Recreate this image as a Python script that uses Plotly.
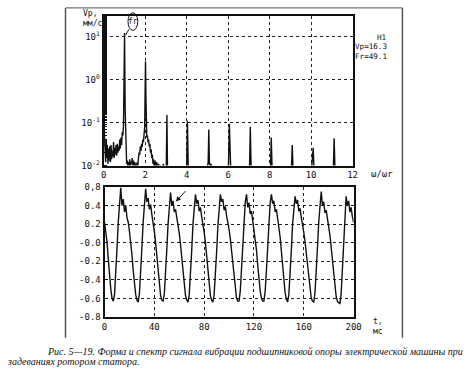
import plotly.graph_objects as go

# ---------------- data ----------------
# spectrum: frequency (ω/ωr) and amplitude Vp (mm/s)
spec_f = [0.00, 0.02, 0.04, 0.06, 0.08, 0.10, 0.13, 0.15, 0.18, 0.21, 0.24, 0.27, 0.30, 0.33, 0.36,
          0.39, 0.42, 0.45, 0.48, 0.51, 0.54, 0.57, 0.60, 0.63, 0.66, 0.69, 0.72, 0.75, 0.78, 0.81,
          0.84, 0.87, 0.90, 0.93, 0.96, 0.98, 1.00, 1.01, 1.02, 1.04, 1.06, 1.08, 1.11, 1.14, 1.17,
          1.20, 1.23, 1.26, 1.29, 1.32, 1.35, 1.38, 1.41, 1.44, 1.47, 1.50, 1.53, 1.56, 1.59, 1.62,
          1.65, 1.68, 1.71, 1.74, 1.77, 1.80, 1.83, 1.86, 1.89, 1.92, 1.95, 1.98, 2.00, 2.02, 2.04,
          2.06, 2.08, 2.11, 2.14, 2.17, 2.20, 2.23, 2.26, 2.29, 2.32, 2.35, 2.38, 2.41, 2.44, 2.48,
          2.52, 2.56, 2.60, 2.65, 2.70, 2.76, 2.82, 2.88, 2.94, 3.02, 3.05, 3.08,
          4.00, 4.04, 4.08,
          4.96, 5.00, 5.04, 5.07, 5.10, 5.14, 5.18, 5.22,
          5.98, 6.02, 6.06, 6.09, 6.12, 6.16,
          7.03, 7.07, 7.11,
          8.04, 8.08, 8.12,
          9.05, 9.09, 9.13,
          10.02, 10.06, 10.10, 10.13, 10.16,
          11.07, 11.11, 11.15, 12.0]
spec_v = [1.6, 0.9, 0.05, 0.02, 0.035, 0.012, 0.04, 0.015, 0.03, 0.011, 0.025, 0.013, 0.028, 0.012, 0.03,
          0.014, 0.022, 0.016, 0.035, 0.015, 0.026, 0.018, 0.03, 0.017, 0.032, 0.02, 0.028, 0.022, 0.04, 0.025,
          0.045, 0.03, 0.06, 0.05, 0.09, 0.3, 3.0, 12.0, 3.0, 0.2, 0.05, 0.02, 0.011, 0.013, 0.009,
          0.012, 0.010, 0.014, 0.009, 0.012, 0.011, 0.015, 0.010, 0.013, 0.009, 0.012, 0.010, 0.011, 0.009, 0.012,
          0.010, 0.015, 0.020, 0.018, 0.028, 0.022, 0.032, 0.027, 0.040, 0.035, 0.050, 0.080, 0.5, 2.6, 0.4,
          0.07, 0.045, 0.05, 0.035, 0.04, 0.028, 0.032, 0.02, 0.024, 0.015, 0.018, 0.011, 0.014, 0.009, 0.013,
          0.008, 0.012, 0.008, 0.011, 0.008, 0.010, 0.007, 0.011, 0.007, 0.008, 0.15, 0.008,
          0.008, 0.11, 0.008,
          0.008, 0.009, 0.012, 0.069, 0.011, 0.010, 0.011, 0.008,
          0.008, 0.011, 0.093, 0.012, 0.010, 0.008,
          0.008, 0.08, 0.008,
          0.008, 0.045, 0.008,
          0.008, 0.03, 0.008,
          0.008, 0.012, 0.026, 0.011, 0.008,
          0.008, 0.043, 0.008, 0.008]

# waveform: time (ms) and signal value
wave_t = list(range(0, 201))
wave_v = [0.22, 0.12, 0.00, -0.18, -0.36, -0.50, -0.60, -0.63, -0.56, -0.36,
          -0.06, 0.22, 0.43, 0.59, 0.40, 0.47, 0.33, 0.40, 0.27, 0.22,
          0.12, 0.02, -0.13, -0.30, -0.45, -0.56, -0.62, -0.64, -0.55, -0.34,
          -0.05, 0.22, 0.42, 0.58, 0.44, 0.48, 0.36, 0.41, 0.30, 0.22,
          0.12, 0.00, -0.15, -0.31, -0.46, -0.57, -0.62, -0.63, -0.55, -0.35,
          -0.07, 0.20, 0.41, 0.54, 0.40, 0.45, 0.33, 0.36, 0.27, 0.20,
          0.10, -0.02, -0.16, -0.32, -0.47, -0.57, -0.62, -0.64, -0.56, -0.36,
          -0.08, 0.20, 0.40, 0.52, 0.42, 0.46, 0.34, 0.38, 0.28, 0.21,
          0.11, 0.00, -0.15, -0.31, -0.46, -0.57, -0.62, -0.64, -0.56, -0.37,
          -0.10, 0.18, 0.38, 0.52, 0.44, 0.47, 0.35, 0.39, 0.29, 0.23,
          0.14, 0.04, -0.10, -0.25, -0.40, -0.52, -0.60, -0.63, -0.63, -0.52,
          -0.30, -0.02, 0.25, 0.44, 0.52, 0.38, 0.43, 0.31, 0.34, 0.24,
          0.17, 0.06, -0.08, -0.24, -0.40, -0.52, -0.60, -0.63, -0.63, -0.52,
          -0.30, -0.02, 0.24, 0.43, 0.52, 0.42, 0.45, 0.33, 0.36, 0.26,
          0.18, 0.06, -0.09, -0.26, -0.42, -0.54, -0.61, -0.64, -0.56, -0.36,
          -0.08, 0.20, 0.40, 0.50, 0.42, 0.46, 0.34, 0.37, 0.27, 0.20,
          0.11, 0.01, -0.12, -0.26, -0.40, -0.52, -0.60, -0.63, -0.64, -0.54,
          -0.33, -0.05, 0.22, 0.42, 0.55, 0.40, 0.44, 0.32, 0.35, 0.26,
          0.18, 0.08, -0.05, -0.20, -0.36, -0.49, -0.58, -0.63, -0.65, -0.66,
          -0.55, -0.32, -0.04, 0.24, 0.50, 0.40, 0.45, 0.33, 0.38, 0.28,
          0.22]

spec_xticks = [0, 2, 4, 6, 8, 10, 12]
spec_yticks = [0.01, 0.1, 1, 10]
spec_yticktext = ["10<sup>-2</sup>", "10<sup>-1</sup>", "10<sup>0</sup>", "10<sup>1</sup>"]
wave_xticks = [0, 40, 80, 120, 160, 200]
wave_yticks = [0.6, 0.4, 0.2, 0.0, -0.2, -0.4, -0.6, -0.8]
wave_yticktext = ["0,8", "0.4", "0.2", "-0.0", "-0.2", "-0.4", "-0.6", "-0.8"]

readout_lines = ["H1", "Vp=16.3", "Fr=49.1"]
caption1 = "Рис. 5—19. Форма и спектр сигнала вибрации подшипниковой опоры электрической машины при"
caption2 = "задеваниях ротором статора."

# ---------------- figure ----------------
W, H = 470, 373


def px(x):
    return x / W


def py(y):
    return 1 - y / H


MONO = "DejaVu Sans Mono"
TICKFONT = dict(family=MONO, size=9, color="#111")

fig = go.Figure()
fig.add_trace(go.Scatter(x=spec_f, y=spec_v, mode="lines", xaxis="x", yaxis="y",
                         line=dict(color="#111", width=1.4), showlegend=False))
fig.add_trace(go.Scatter(x=wave_t, y=wave_v, mode="lines", xaxis="x2", yaxis="y2",
                         line=dict(color="#111", width=1.4), showlegend=False))

axis_common = dict(showline=True, linecolor="#111", linewidth=2, mirror=True,
                   gridcolor="#222", griddash="dot", gridwidth=1, zeroline=False,
                   tickfont=TICKFONT, ticks="", fixedrange=True)

fig.update_layout(
    width=W, height=H, margin=dict(l=0, r=0, t=0, b=0),
    paper_bgcolor="white", plot_bgcolor="white",
    xaxis=dict(domain=[px(103), px(358)], range=[0, 12], tickvals=spec_xticks,
               anchor="y", **axis_common),
    yaxis=dict(domain=[py(165), py(11)], type="log", range=[-2, 1.48],
               tickvals=spec_yticks, ticktext=spec_yticktext, anchor="x",
               minor=dict(ticks="inside", ticklen=3, tickcolor="#111", showgrid=False),
               **axis_common),
    xaxis2=dict(domain=[px(104), px(359)], range=[0, 200], tickvals=wave_xticks,
                anchor="y2", **axis_common),
    yaxis2=dict(domain=[py(320.5), py(187)], range=[-0.8, 0.6], tickvals=wave_yticks,
                ticktext=wave_yticktext, anchor="x2", **axis_common),
)
fig.update_layout(yaxis2=dict(ticks="inside", ticklen=3, tickcolor="#111", mirror="ticks"))

anns = []
A = dict(xref="paper", yref="paper", showarrow=False)
anns.append(dict(text="Vp,<br>мм/с", x=px(103), y=py(14), xanchor="right", yanchor="middle",
                 font=dict(family=MONO, size=8, color="#111"), align="left", **A))
anns.append(dict(text="fr", x=px(133), y=py(17), xanchor="center", yanchor="middle",
                 font=dict(family=MONO, size=8, color="#111"), **A))
for i, txt in enumerate(readout_lines):
    anns.append(dict(text=txt, x=px(395), y=py(33 + 10 * i), xanchor="right", yanchor="middle",
                     font=dict(family=MONO, size=7.6, color="#111"), **A))
anns.append(dict(text="ω/ωr", x=px(375), y=py(174), xanchor="left", yanchor="middle",
                 font=dict(family=MONO, size=9, color="#111"), **A))
anns.append(dict(text="t,<br>мс", x=px(384), y=py(330), xanchor="center", yanchor="middle",
                 font=dict(family=MONO, size=8, color="#111"), **A))
anns.append(dict(text="", x=px(177), y=py(202), xref="paper", yref="paper", showarrow=True,
                 ax=11, ay=-12, arrowhead=2, arrowsize=1, arrowwidth=1, arrowcolor="#111"))
anns.append(dict(text="<i>" + caption1 + "</i>", x=px(43), y=py(356), xanchor="left", yanchor="middle",
                 font=dict(family="Liberation Serif", size=10, color="#111"), **A))
anns.append(dict(text="<i>" + caption2 + "</i>", x=px(2), y=py(366.5), xanchor="left", yanchor="middle",
                 font=dict(family="Liberation Serif", size=10, color="#111"), **A))
fig.update_layout(annotations=anns)

shapes = [
    dict(type="circle", xref="paper", yref="paper", x0=px(128), x1=px(138), y0=py(26), y1=py(8),
         line=dict(color="#111", width=1)),
    dict(type="line", xref="paper", yref="paper", x0=px(129), y0=py(25), x1=px(125.5), y1=py(31),
         line=dict(color="#111", width=1)),
    dict(type="line", xref="paper", yref="paper", x0=px(64), y0=py(3), x1=px(64), y1=py(342),
         line=dict(color="#555", width=1.5)),
    dict(type="line", xref="paper", yref="paper", x0=px(64), y0=py(3), x1=px(409), y1=py(3),
         line=dict(color="#777", width=1.2)),
    dict(type="line", xref="paper", yref="paper", x0=px(409), y0=py(3), x1=px(409), y1=py(342),
         line=dict(color="#555", width=1.5)),
]
fig.update_layout(shapes=shapes)

fig.write_html("out.html", config={"displayModeBar": False},
               post_script="document.body.style.margin='0';document.body.style.overflow='hidden';")
